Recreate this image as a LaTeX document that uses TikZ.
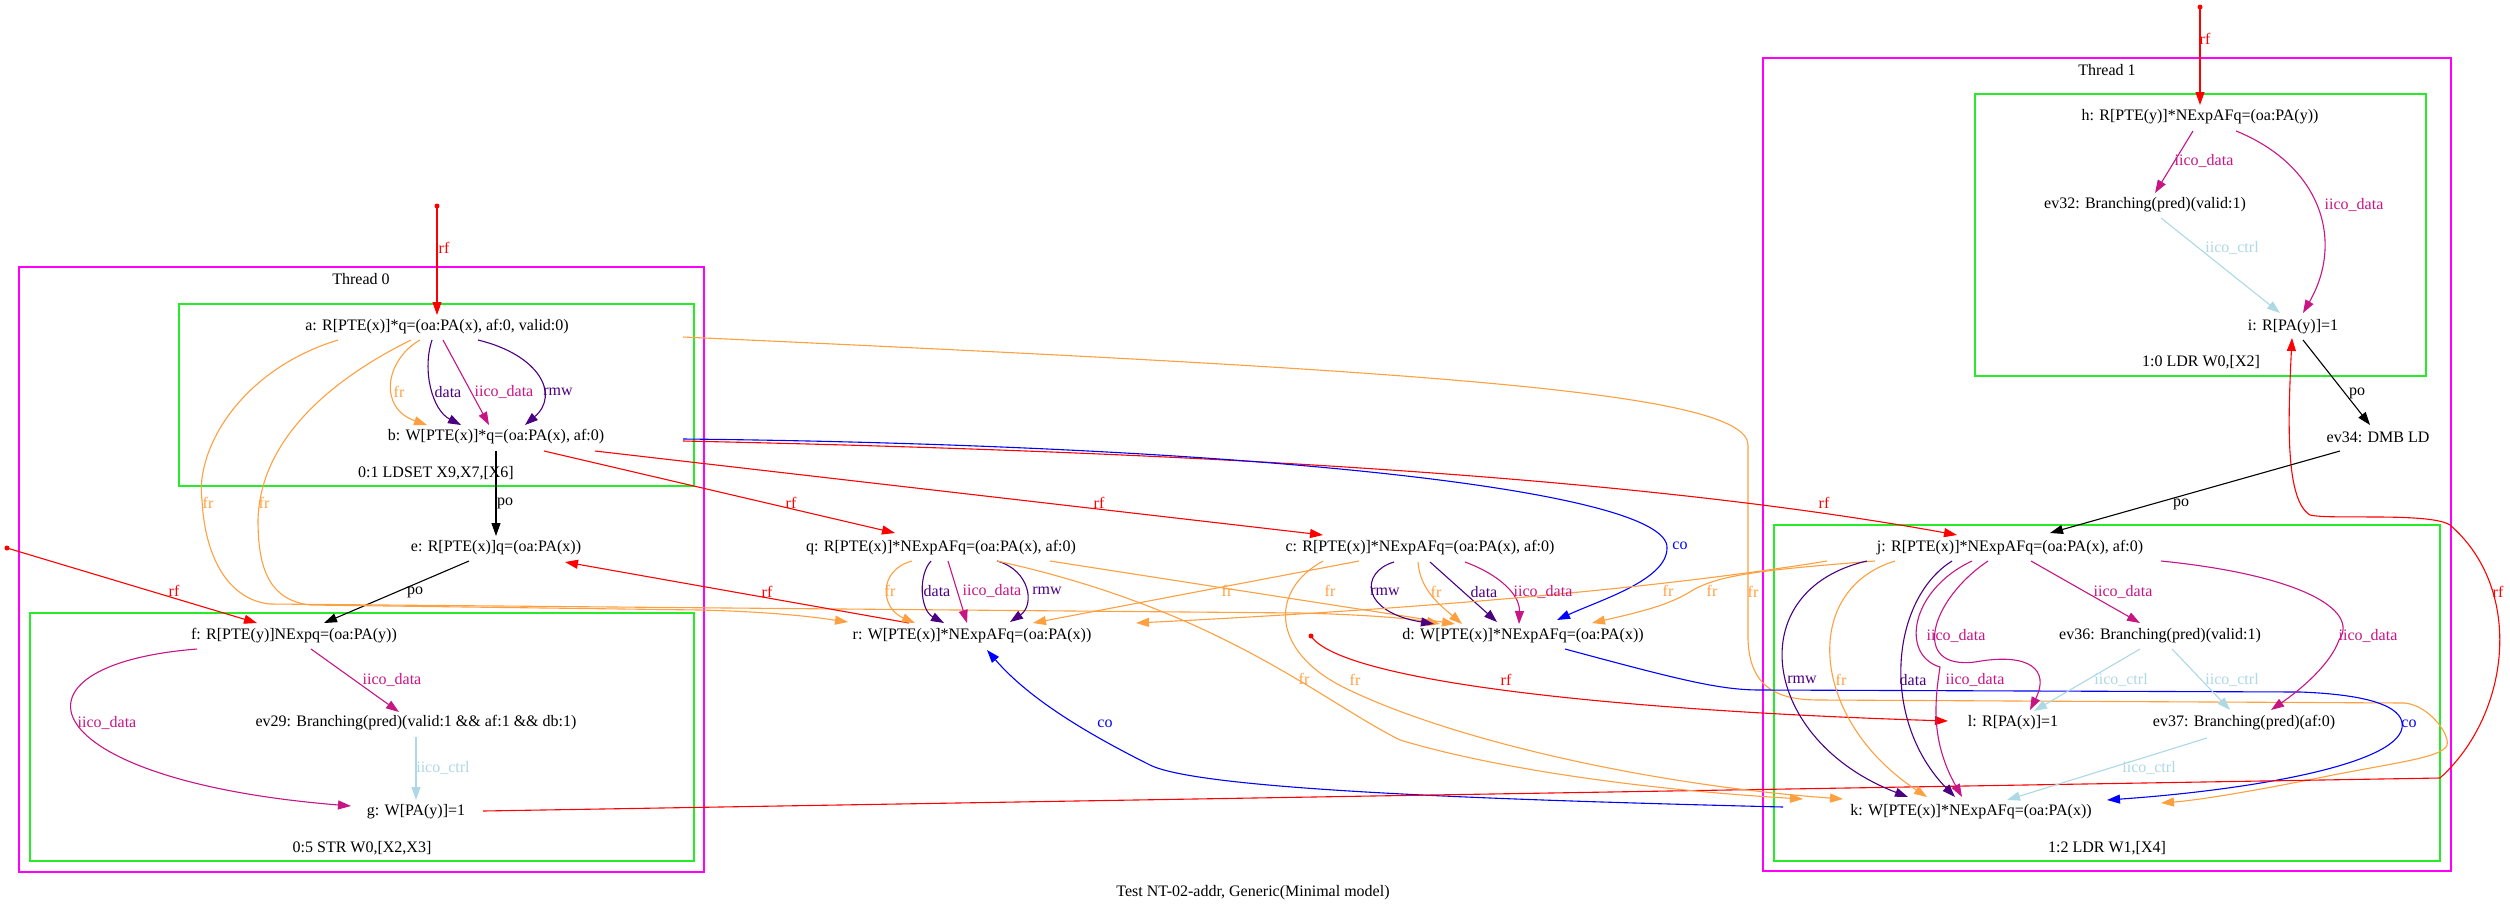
\documentclass[tikz,border=0pt]{standalone}
\usepackage{fontspec}
\setmainfont{Liberation Serif}
\usetikzlibrary{arrows.meta}
\definecolor{cfr}{RGB}{255,160,64}
\definecolor{cind}{RGB}{75,0,130}
\definecolor{cmvr}{RGB}{199,21,133}
\definecolor{clb}{RGB}{173,216,230}
\definecolor{cmag}{RGB}{255,0,255}
\definecolor{cgrn}{RGB}{40,235,40}
\tikzset{
 ev/.style={inner sep=0pt, font=\fontsize{16}{18}\selectfont},
 lbl/.style={inner sep=0pt, font=\fontsize{16}{18}\selectfont},
 edge/.style={line width=1.1pt, -{Triangle[length=13pt,width=9pt]}},
 erf/.style={edge, red},
 efr/.style={edge, cfr},
 eco/.style={edge, blue},
 epo/.style={edge, black},
 edat/.style={edge, cind},
 eiico/.style={edge, cmvr},
 ectl/.style={edge, clb},
 clumag/.style={line width=1.3pt, cmag},
 clugrn/.style={line width=1.3pt, cgrn},
 initdot/.style={circle, fill=red, inner sep=0pt, minimum size=5pt},
}
\newcommand\elab[4]{\node[lbl,text=#1] (#2) at (#3) {#4};}
\begin{document}
\begin{tikzpicture}[x=1pt,y=-1pt]
\useasboundingbox[fill=white] (0,0) rectangle (2510,913);
% clusters
\draw[clumag] (19,267) rectangle (704,872);
\draw[clugrn] (179,304) rectangle (694,486);
\draw[clugrn] (30,613) rectangle (694,861);
\draw[clumag] (1763,58) rectangle (2451,871);
\draw[clugrn] (1975,94) rectangle (2426,376);
\draw[clugrn] (1774,525) rectangle (2440,861);
\node[lbl] (t0) at (361,279) {Thread 0};
\node[lbl] (t1) at (2107,70) {Thread 1};
\node[lbl] (c01) at (436,473) {0:1 LDSET X9,X7,[X6]};
\node[lbl] (c05) at (362,848) {0:5 STR W0,[X2,X3]};
\node[lbl] (c10) at (2201,362) {1:0 LDR W0,[X2]};
\node[lbl] (c12) at (2107,848) {1:2 LDR W1,[X4]};
\node[lbl] (cap) at (1253,893) {Test NT-02-addr, Generic(Minimal model)};
% events
\node[ev] (a) at (437,327) {a: R[PTE(x)]*q=(oa:PA(x), af:0, valid:0)};
\node[ev] (b) at (496,437) {b: W[PTE(x)]*q=(oa:PA(x), af:0)};
\node[ev] (e) at (496,548) {e: R[PTE(x)]q=(oa:PA(x))};
\node[ev] (f) at (294,636) {f: R[PTE(y)]NExpq=(oa:PA(y))};
\node[ev] (ev29) at (416,723) {ev29: Branching(pred)(valid:1 \&\& af:1 \&\& db:1)};
\node[ev] (g) at (416,812) {g: W[PA(y)]=1};
\node[ev] (q) at (941,548) {q: R[PTE(x)]*NExpAFq=(oa:PA(x), af:0)};
\node[ev] (r) at (972,636) {r: W[PTE(x)]*NExpAFq=(oa:PA(x))};
\node[ev] (c) at (1420,548) {c: R[PTE(x)]*NExpAFq=(oa:PA(x), af:0)};
\node[ev] (d) at (1523,636) {d: W[PTE(x)]*NExpAFq=(oa:PA(x))};
\node[ev] (h) at (2200,117) {h: R[PTE(y)]*NExpAFq=(oa:PA(y))};
\node[ev] (ev32) at (2145,205) {ev32: Branching(pred)(valid:1)};
\node[ev] (i) at (2293,327) {i: R[PA(y)]=1};
\node[ev] (ev34) at (2378,437) {ev34: DMB LD};
\node[ev] (j) at (2010,548) {j: R[PTE(x)]*NExpAFq=(oa:PA(x), af:0)};
\node[ev] (ev36) at (2160,636) {ev36: Branching(pred)(valid:1)};
\node[ev] (l) at (2013,723) {l: R[PA(x)]=1};
\node[ev] (ev37) at (2244,723) {ev37: Branching(pred)(af:0)};
\node[ev] (k) at (1971,812) {k: W[PTE(x)]*NExpAFq=(oa:PA(x))};
\node[initdot] (ia) at (437,206) {};
\node[initdot] (iff) at (7,548) {};
\node[initdot] (ih) at (2200,7) {};
\node[initdot] (il) at (1311,636) {};
% Thread 0 edges
\draw[erf] (ia.center) -- ([shift={(0,-12)}]a.center);
\draw[efr] ([shift={(-17,13)}]a.center) .. controls (385,360) and (378,408) .. ([shift={(-69,-12)}]b.center);
\draw[edat] ([shift={(-5,13)}]a.center) .. controls (422,370) and (432,410) .. ([shift={(-35,-12)}]b.center);
\draw[eiico] ([shift={(6,13)}]a.center) -- ([shift={(-7,-12)}]b.center);
\draw[edat] ([shift={(41,13)}]a.center) .. controls (540,355) and (560,395) .. ([shift={(29,-12)}]b.center);
\draw[epo] ([shift={(0,14)}]b.center) -- ([shift={(0,-12)}]e.center);
\draw[epo] ([shift={(-27,13)}]e.center) -- ([shift={(30,-13)}]f.center);
\draw[erf] (iff.center) -- ([shift={(-37,-13)}]f.center);
\draw[eiico] ([shift={(17,13)}]f.center) -- ([shift={(-17,-11)}]ev29.center);
\draw[eiico] ([shift={(-97,13)}]f.center) .. controls (-5,665) and (30,780) .. ([shift={(-65,-6)}]g.center);
\draw[ectl] ([shift={(0,14)}]ev29.center) -- ([shift={(0,-12)}]g.center);
% cross edges
\draw[efr] ([shift={(-99,13)}]a.center) .. controls (240,370) and (195,450) .. (202,500) .. controls (205,560) and (230,600) .. (270,604) -- (1300,613) .. controls (1380,615) and (1420,620) .. ([shift={(-83,-12)}]d.center);
\draw[efr] ([shift={(-26,13)}]a.center) .. controls (330,380) and (260,440) .. (258,520) .. controls (258,570) and (270,600) .. (310,605) -- (700,610) .. controls (780,612) and (820,618) .. ([shift={(-124,-14)}]r.center);
\draw[efr] ([shift={(246,10)}]a.center) .. controls (1400,370) and (1748,390) .. (1748,445) -- (1748,640) .. controls (1750,690) and (1780,700) .. (1820,700) -- (2405,703) .. controls (2430,706) and (2450,735) .. (2447,745) .. controls (2443,757) and (2400,762) .. (2333,775) .. controls (2260,790) and (2200,800) .. ([shift={(190,-9)}]k.center);
\draw[erf] ([shift={(48,14)}]b.center) -- ([shift={(-46,-15)}]q.center);
\draw[erf] ([shift={(99,14)}]b.center) -- ([shift={(-97,-13)}]c.center);
\draw[erf] ([shift={(187,4)}]b.center) .. controls (1100,450) and (1600,470) .. ([shift={(-53,-13)}]j.center);
\draw[eco] ([shift={(187,2)}]b.center) .. controls (1250,445) and (1670,490) .. (1667,548) .. controls (1667,580) and (1600,600) .. ([shift={(34,-16)}]d.center);
\draw[erf] ([shift={(-63,-13)}]r.center) -- ([shift={(69,14)}]e.center);
\draw[eco] ([shift={(-188,-5)}]k.center) .. controls (1500,800) and (1200,790) .. (1150,765) .. controls (1090,735) and (1030,700) .. ([shift={(15,14)}]r.center);
\draw[eco] ([shift={(42,13)}]d.center) .. controls (1680,680) and (1720,690) .. (1760,690) -- (2300,692) .. controls (2380,695) and (2405,710) .. (2402,728) .. controls (2395,765) and (2250,790) .. ([shift={(136,-12)}]k.center);
\draw[erf] (il.center) .. controls (1340,680) and (1600,710) .. ([shift={(-65,-2)}]l.center);
\draw[erf] ([shift={(67,-1)}]g.center) -- (2440,778) .. controls (2510,715) and (2525,590) .. (2450,525) .. controls (2430,512) and (2330,520) .. (2310,515) .. controls (2285,500) and (2288,420) .. ([shift={(-1,11)}]i.center);
% q edges
\draw[efr] ([shift={(-29,13)}]q.center) .. controls (878,570) and (880,608) .. ([shift={(-57,-13)}]r.center);
\draw[edat] ([shift={(-10,13)}]q.center) .. controls (918,575) and (920,610) .. ([shift={(-28,-13)}]r.center);
\draw[eiico] ([shift={(7,13)}]q.center) -- ([shift={(-5,-13)}]r.center);
\draw[edat] ([shift={(56,13)}]q.center) .. controls (1030,570) and (1035,605) .. ([shift={(38,-14)}]r.center);
\draw[efr] ([shift={(56,13)}]q.center) .. controls (1220,610) and (1320,700) .. (1400,740) .. controls (1500,770) and (1650,790) .. ([shift={(-168,-13)}]k.center);
\draw[efr] ([shift={(109,13)}]q.center) -- ([shift={(-68,-12)}]d.center);
% c edges
\draw[efr] ([shift={(-61,13)}]c.center) -- ([shift={(61,-13)}]r.center);
\draw[edat] ([shift={(-26,14)}]c.center) .. controls (1360,572) and (1360,612) .. ([shift={(-89,-12)}]d.center);
\draw[efr] ([shift={(-2,14)}]c.center) .. controls (1420,590) and (1440,605) .. ([shift={(-61,-12)}]d.center);
\draw[edat] ([shift={(10,14)}]c.center) -- ([shift={(-26,-14)}]d.center);
\draw[eiico] ([shift={(45,14)}]c.center) .. controls (1500,575) and (1520,595) .. ([shift={(-4,-12)}]d.center);
\draw[efr] ([shift={(-97,13)}]c.center) .. controls (1270,590) and (1270,650) .. (1343,687) .. controls (1450,740) and (1650,785) .. ([shift={(-128,-13)}]k.center);
% j edges
\draw[efr] ([shift={(-135,13)}]j.center) .. controls (1760,570) and (1720,575) .. (1693,590) .. controls (1670,605) and (1640,612) .. ([shift={(69,-13)}]d.center);
\draw[efr] ([shift={(-183,13)}]j.center) .. controls (1650,590) and (1400,610) .. ([shift={(164,-13)}]r.center);
\draw[edat] ([shift={(-143,13)}]j.center) .. controls (1740,590) and (1760,740) .. ([shift={(-63,-15)}]k.center);
\draw[efr] ([shift={(-115,13)}]j.center) .. controls (1800,590) and (1810,720) .. ([shift={(-44,-15)}]k.center);
\draw[edat] ([shift={(-58,13)}]j.center) .. controls (1890,600) and (1880,720) .. ([shift={(-16,-15)}]k.center);
\draw[eiico] ([shift={(-38,13)}]j.center) .. controls (1910,590) and (1900,655) .. (1940,667) .. controls (1935,700) and (1930,740) .. ([shift={(-9,-15)}]k.center);
\draw[eiico] ([shift={(-22,13)}]j.center) .. controls (1930,600) and (1910,670) .. (1975,662) .. controls (2030,652) and (2050,670) .. ([shift={(17,-13)}]l.center);
\draw[eiico] ([shift={(21,13)}]j.center) -- ([shift={(-20,-13)}]ev36.center);
\draw[eiico] ([shift={(151,13)}]j.center) .. controls (2300,575) and (2360,610) .. (2339,640) .. controls (2330,665) and (2300,690) .. ([shift={(27,-13)}]ev37.center);
\draw[ectl] ([shift={(-20,13)}]ev36.center) -- ([shift={(21,-12)}]l.center);
\draw[ectl] ([shift={(12,13)}]ev36.center) -- ([shift={(-14,-13)}]ev37.center);
\draw[ectl] ([shift={(-37,15)}]ev37.center) -- ([shift={(36,-12)}]k.center);
% h edges
\draw[erf] (ih.center) -- ([shift={(0,-12)}]h.center);
\draw[eiico] ([shift={(-7,14)}]h.center) -- ([shift={(10,-12)}]ev32.center);
\draw[eiico] ([shift={(36,14)}]h.center) .. controls (2320,165) and (2345,240) .. ([shift={(10,-14)}]i.center);
\draw[ectl] ([shift={(16,13)}]ev32.center) -- ([shift={(-13,-14)}]i.center);
\draw[epo] ([shift={(10,13)}]i.center) -- ([shift={(-8,-12)}]ev34.center);
\draw[epo] ([shift={(-38,14)}]ev34.center) -- ([shift={(40,-15)}]j.center);
% labels
\elab{red}{l1}{444,248}{rf}
\elab{cfr}{l2}{399,392}{fr}
\elab{cind}{l3}{448,392}{data}
\elab{cmvr}{l4}{504,392}{iico\_data}
\elab{cind}{l5}{558,392}{rmw}
\elab{black}{l6}{505,503}{po}
\elab{black}{l7}{415,592}{po}
\elab{red}{l8}{174,591}{rf}
\elab{cmvr}{l9}{392,680}{iico\_data}
\elab{cmvr}{l10}{107,723}{iico\_data}
\elab{clb}{l11}{443,768}{iico\_ctrl}
\elab{cfr}{l12}{208,503}{fr}
\elab{cfr}{l13}{264,503}{fr}
\elab{red}{l14}{791,503}{rf}
\elab{red}{l15}{1099,503}{rf}
\elab{red}{l16}{1824,503}{rf}
\elab{blue}{l17}{1680,546}{co}
\elab{cfr}{l18}{1753,592}{fr}
\elab{red}{l19}{767,592}{rf}
\elab{blue}{l20}{1105,724}{co}
\elab{blue}{l21}{2409,724}{co}
\elab{red}{l22}{1506,680}{rf}
\elab{cfr}{l23}{890,591}{fr}
\elab{cind}{l24}{937,591}{data}
\elab{cmvr}{l25}{992,591}{iico\_data}
\elab{cind}{l26}{1047,591}{rmw}
\elab{cfr}{l27}{1304,679}{fr}
\elab{cfr}{l28}{1330,591}{fr}
\elab{cfr}{l29}{1227,591}{fr}
\elab{cind}{l30}{1385,592}{rmw}
\elab{cfr}{l31}{1436,592}{fr}
\elab{cind}{l32}{1484,592}{data}
\elab{cmvr}{l33}{1543,592}{iico\_data}
\elab{cfr}{l34}{1355,680}{fr}
\elab{cfr}{l35}{1712,591}{fr}
\elab{cfr}{l36}{1668,591}{fr}
\elab{cind}{l37}{1802,680}{rmw}
\elab{cfr}{l38}{1841,680}{fr}
\elab{cind}{l39}{1913,680}{data}
\elab{cmvr}{l40}{1975,680}{iico\_data}
\elab{cmvr}{l41}{1956,636}{iico\_data}
\elab{cmvr}{l42}{2123,592}{iico\_data}
\elab{cmvr}{l43}{2368,636}{iico\_data}
\elab{clb}{l44}{2121,680}{iico\_ctrl}
\elab{clb}{l45}{2232,680}{iico\_ctrl}
\elab{clb}{l46}{2149,768}{iico\_ctrl}
\elab{red}{l47}{2205,39}{rf}
\elab{cmvr}{l48}{2204,161}{iico\_data}
\elab{cmvr}{l49}{2354,205}{iico\_data}
\elab{clb}{l50}{2232,248}{iico\_ctrl}
\elab{black}{l51}{2357,393}{po}
\elab{black}{l52}{2181,504}{po}
\elab{red}{l53}{2498,592}{rf}
\end{tikzpicture}
\end{document}
